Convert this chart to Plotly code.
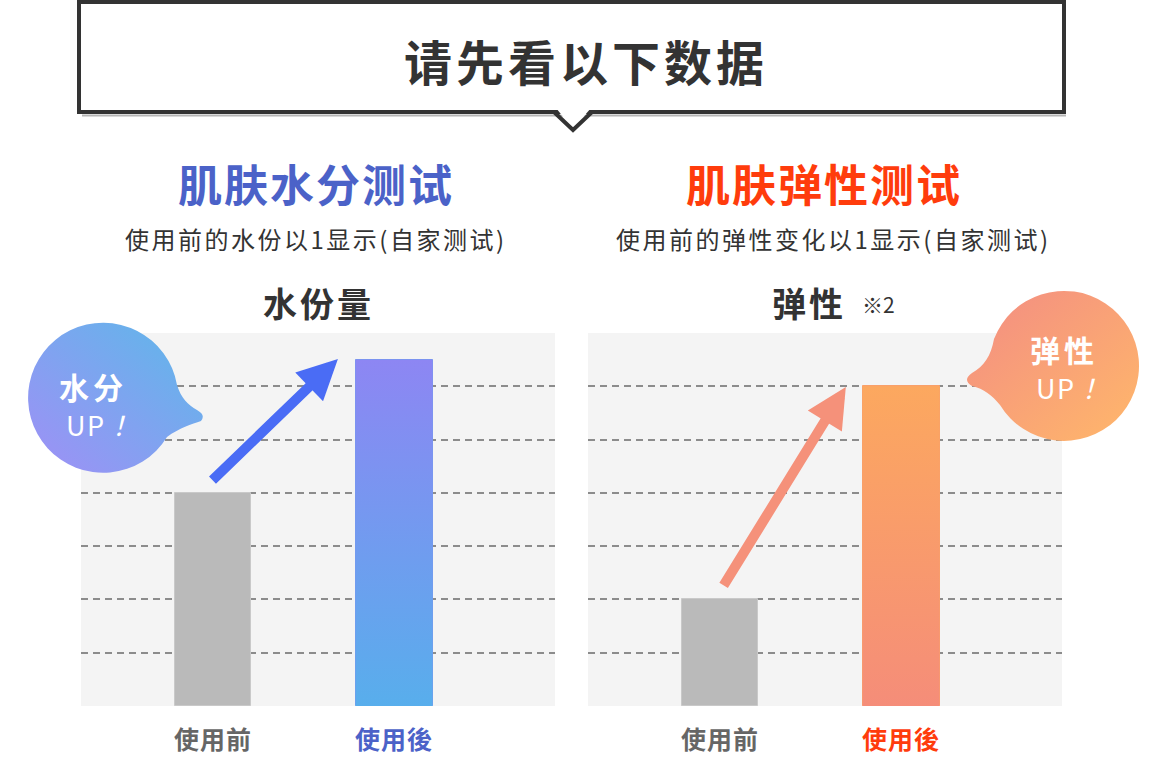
import base64
import plotly.graph_objects as go

W, H = 1170, 757
FONT = "Noto Sans CJK SC"

# ---------------- data ----------------
categories = ["使用前", "使用後"]
moisture_values = [1.0, 1.625]
elasticity_values = [1.0, 3.0]
moisture_grid = [0.25, 0.5, 0.75, 1.0, 1.25, 1.5, 1.75]
elasticity_grid = [0.5, 1.0, 1.5, 2.0, 2.5, 3.0, 3.5]

main_title = "请先看以下数据"
left_heading = "肌肤水分测试"
right_heading = "肌肤弹性测试"
left_sub = "使用前的水份以1显示(自家测试)"
right_sub = "使用前的弹性变化以1显示(自家测试)"
left_chart_title = "水份量"
right_chart_title = "弹性"
right_note = "※2"
left_bubble = ["水分", "UP！"]
right_bubble = ["弹性", "UP！"]

# ---------------- style ----------------
BLUE = "#4b62c8"
RED = "#ff3c0c"
GRAY_TXT = "#666666"
DARK = "#333333"
BAR_W = 0.425
XRANGE = [-0.729, 1.889]
xi = list(range(len(categories)))


def px(x):
    return x / W


def py(y):
    return 1 - y / H


def spaced(t, ls):
    return f'<span style="letter-spacing:{ls}px">{t}</span>'


fig = go.Figure()


def add_panel(values, grid, after_color, grad, xa, ya):
    fig.add_trace(go.Bar(
        x=xi, y=values, width=BAR_W,
        marker=dict(color=["#bababa", after_color],
                    line=dict(color=["#c9c9c9", after_color], width=1)),
        xaxis=xa, yaxis=ya, showlegend=False, hoverinfo="skip"))
    v = values[1]
    c = xi[1]
    fig.add_trace(go.Scatter(
        x=[c - BAR_W / 2, c + BAR_W / 2, c + BAR_W / 2, c - BAR_W / 2, c - BAR_W / 2],
        y=[0, 0, v, v, 0],
        mode="lines", line=dict(width=0), fill="toself",
        fillgradient=dict(type="vertical", colorscale=[[0, grad[0]], [1, grad[1]]]),
        xaxis=xa, yaxis=ya, showlegend=False, hoverinfo="skip"))


add_panel(moisture_values, moisture_grid, "#7598ef", ("#58aeec", "#8d86f3"), "x", "y")
add_panel(elasticity_values, elasticity_grid, "#f9a06a", ("#f58d79", "#fca85f"), "x2", "y2")

ydom = [51 / H, 424 / H]
tickfont = dict(family=FONT, size=25)


def xaxis_cfg(dom, after_col, anchor):
    return dict(domain=dom, range=XRANGE, showgrid=False, zeroline=False, showline=False,
                tickvals=xi, anchor=anchor,
                ticktext=[f'<b><span style="color:{GRAY_TXT};letter-spacing:1px">{categories[0]}</span></b>',
                          f'<b><span style="color:{after_col};letter-spacing:1px">{categories[1]}</span></b>'],
                tickfont=tickfont, ticks="", ticklabelstandoff=17, fixedrange=True)


def yaxis_cfg(dom, grid, anchor):
    return dict(domain=dom, range=[0, grid[-1]], tickvals=grid, showticklabels=False,
                showgrid=True, gridcolor="#8c8c8c", gridwidth=1.5, griddash="7px,5px",
                zeroline=False, showline=False, ticks="", anchor=anchor, fixedrange=True)


fig.update_layout(
    width=W, height=H, margin=dict(l=0, r=0, t=0, b=0),
    paper_bgcolor="white", plot_bgcolor="#f4f4f4",
    bargap=0, showlegend=False,
    xaxis=xaxis_cfg([81 / W, 555 / W], BLUE, "y"),
    yaxis=yaxis_cfg(ydom, moisture_grid, "x"),
    xaxis2=xaxis_cfg([588 / W, 1062 / W], RED, "y2"),
    yaxis2=yaxis_cfg(ydom, elasticity_grid, "x2"),
)

# ---------------- title box ----------------
shapes = [
    dict(type="line", xref="paper", yref="paper", x0=px(82), x1=px(1066), y0=py(115.5), y1=py(115.5),
         line=dict(color="#b5b5b5", width=2)),
    dict(type="rect", xref="paper", yref="paper", x0=px(79), x1=px(1064), y0=py(112), y1=py(2),
         line=dict(color=DARK, width=4), fillcolor="white"),
    dict(type="path", xref="paper", yref="paper",
         path=f"M {px(556)},{py(108)} L {px(591)},{py(108)} L {px(573)},{py(129)} Z",
         fillcolor="white", line=dict(width=0)),
    dict(type="path", xref="paper", yref="paper",
         path=f"M {px(554)},{py(112)} L {px(573)},{py(130)} L {px(592)},{py(112)}",
         line=dict(color=DARK, width=4)),
]
fig.update_layout(shapes=shapes)

# ---------------- speech bubbles (decorative) ----------------
svg = f'''<svg xmlns="http://www.w3.org/2000/svg" width="{W}" height="{H}" viewBox="0 0 {W} {H}">
<defs>
<linearGradient id="gb" x1="0" y1="1" x2="1" y2="0">
<stop offset="0" stop-color="#a08ff6"/><stop offset="1" stop-color="#5cb9e9"/></linearGradient>
<linearGradient id="go" x1="0" y1="0" x2="1" y2="1">
<stop offset="0" stop-color="#f38c83"/><stop offset="1" stop-color="#ffb86a"/></linearGradient>
</defs>
<path d="M 177,385 C 181,398 188,405 197,410 Q 206,415 201,421 C 192,424 179,428 167,437 A 75 75 0 1 1 177,385 Z" fill="url(#gb)"/>
<path d="M 994,339 C 991,356 984,366 972,373 Q 962,380 972,386 C 984,389 992,395 1000,405 A 75 75 0 1 0 994,339 Z" fill="url(#go)"/>
</svg>'''
src = "data:image/svg+xml;base64," + base64.b64encode(svg.encode("utf-8")).decode("ascii")
fig.add_layout_image(dict(source=src, xref="paper", yref="paper", x=0, y=1, sizex=1, sizey=1,
                          sizing="stretch", xanchor="left", yanchor="top", layer="above"))

# ---------------- texts ----------------
ann = []


def add_text(s, x, y, size, color):
    ann.append(dict(text=s, x=px(x), y=py(y), xref="paper", yref="paper", showarrow=False,
                    xanchor="center", yanchor="middle", borderpad=0,
                    font=dict(family=FONT, size=size, color=color)))


def txt(t, x, y, size, color, bold=False, ls=0):
    s = spaced(t, ls) if ls else t
    if bold:
        s = f"<b>{s}</b>"
    add_text(s, x, y, size, color)


def up_txt(t, x, y, size):
    s = spaced(t[:-1], 1.5) + '<span style="letter-spacing:0px"> </span><i>' + t[-1] + "</i>"
    add_text(s, x, y, size, "white")


txt(main_title, 586, 60, 48, DARK, True, 4)
txt(left_heading, 316, 183, 44, BLUE, True, 2)
txt(right_heading, 824, 183, 44, RED, True, 2)
txt(left_sub, 316, 238, 24, DARK, False, 2.5)
txt(right_sub, 833, 238, 24, DARK, False, 2.5)
txt(left_chart_title, 319, 302, 34, DARK, True, 3)
txt(right_chart_title, 809, 302, 34, DARK, True, 3)
txt(right_note, 878, 304, 21, DARK, False)
txt(left_bubble[0], 93, 386, 30, "white", True, 4)
up_txt(left_bubble[1], 102, 424, 27)
txt(right_bubble[0], 1064, 349, 30, "white", True, 4)
up_txt(right_bubble[1], 1072, 387, 27)

# ---------------- arrows (decorative, anchored to the data) ----------------
ann.append(dict(x=0.690, y=moisture_values[1] + 0.003, ax=-0.011, ay=moisture_values[0] + 0.053,
                xref="x", yref="y", axref="x", ayref="y", text="", showarrow=True,
                arrowhead=2, arrowsize=0.8, arrowwidth=10, arrowcolor="#4a6cf5", standoff=0))
ann.append(dict(x=0.695, y=elasticity_values[1] - 0.007, ax=0.015, ay=elasticity_values[0] + 0.117,
                xref="x2", yref="y2", axref="x2", ayref="y2", text="", showarrow=True,
                arrowhead=2, arrowsize=0.8, arrowwidth=10, arrowcolor="#f5917a", standoff=0))

fig.update_layout(annotations=ann)

fig.write_html("out.html", config={"displayModeBar": False})
